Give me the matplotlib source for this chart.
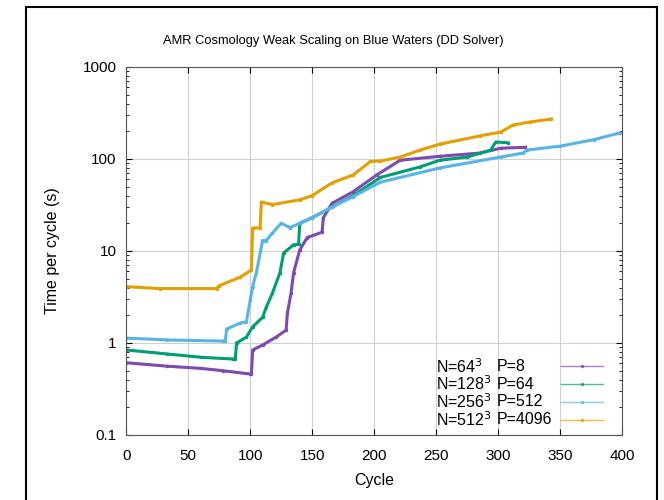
import matplotlib
matplotlib.use("Agg")
import matplotlib.pyplot as plt
from matplotlib.patches import Rectangle
from matplotlib.ticker import LogLocator, NullFormatter, FixedLocator

plt.rcParams['font.family'] = ['Liberation Sans', 'DejaVu Sans']

# values (cycle, time per cycle in s)
cyc_64 = [0, 33, 60, 78, 100, 101, 102, 110, 121, 129, 130, 133, 135, 140, 146, 158,
          159, 166, 183, 202, 221, 253, 285, 302, 322]
t_64 = [0.61, 0.56, 0.53, 0.50, 0.46, 0.46, 0.84, 0.95, 1.16, 1.38, 2.1, 3.5, 5.8, 10.3,
        14, 16, 23, 33, 44, 67, 97, 107, 116, 131, 134]

cyc_128 = [0, 33, 60, 86, 88, 89, 97, 102, 110, 113, 118, 124, 127, 135, 139, 140, 150,
           166, 183, 205, 237, 253, 275, 294, 298, 308]
t_128 = [0.84, 0.76, 0.70, 0.67, 0.67, 1.0, 1.16, 1.5, 1.9, 2.45, 3.5, 5.8, 9.5, 11.7,
         11.8, 20, 23, 30, 40, 63, 82, 97, 105, 125, 153, 150]

cyc_256 = [0, 33, 78, 80, 81, 92, 97, 100, 102, 105, 110, 113, 118, 125, 132, 140, 150,
           166, 183, 205, 253, 302, 320, 323, 350, 377, 398]
t_256 = [1.13, 1.08, 1.05, 1.05, 1.42, 1.65, 1.7, 2.9, 4.1, 5.8, 13, 13, 15.7, 20, 18,
         20, 23, 30, 39, 56, 80, 105, 116, 125, 138, 162, 192]

cyc_512 = [0, 27, 73, 75, 92, 101, 102, 108, 109, 118, 140, 150, 166, 183, 197, 205,
           221, 237, 253, 285, 302, 312, 326, 343]
t_512 = [4.1, 3.9, 3.9, 4.2, 5.2, 6.2, 17.8, 17.8, 34, 32, 36, 40, 55, 67, 94, 95,
         105, 125, 145, 178, 196, 234, 253, 272]

n_labels = ["N=64$^3$", "N=128$^3$", "N=256$^3$", "N=512$^3$"]
p_labels = ["P=8", "P=64", "P=512", "P=4096"]
colors = ["#7c4ab0", "#009e73", "#56b4e9", "#e69f00"]

fig = plt.figure(figsize=(6.64, 5), dpi=100)
ax = fig.add_axes([0.190, 0.13, 0.747, 0.736])

series = [(cyc_64, t_64), (cyc_128, t_128), (cyc_256, t_256), (cyc_512, t_512)]
lines = []
for (c, t), col in zip(series, colors):
    ln, = ax.plot(c, t, color=col, lw=2.2, marker='.', ms=3)
    lines.append(ln)

ax.set_yscale('log')
ax.set_xlim(0, 400)
ax.set_ylim(0.1, 1000)
ax.xaxis.set_major_locator(FixedLocator(range(0, 401, 50)))
ax.set_yticks([0.1, 1, 10, 100, 1000])
ax.set_yticklabels(["0.1", "1", "10", "100", "1000"])
ax.yaxis.set_minor_locator(LogLocator(base=10, subs=range(2, 10)))
ax.yaxis.set_minor_formatter(NullFormatter())
ax.tick_params(which='both', direction='in', top=True, right=True, labelsize=11, pad=7)
ax.tick_params(axis='x', which='major', pad=10)
ax.tick_params(which='major', length=4)
ax.tick_params(which='minor', length=2)
ax.grid(True, which='major', color='#d0d0d0', lw=0.8)
for s in ax.spines.values():
    s.set_color('#555555')

ax.set_xlabel("Cycle", fontsize=11.5, labelpad=7)
ax.set_ylabel("Time per cycle (s)", fontsize=11.5, labelpad=16)
fig.text(0.502, 0.918, "AMR Cosmology Weak Scaling on Blue Waters (DD Solver)",
         ha='center', va='center', fontsize=9.3)

# gnuplot style key: text on the left, thin sample line on the right
leg = ax.legend(lines, [""] * 4, loc='lower right', bbox_to_anchor=(0.976, 0.0),
                frameon=False, markerfirst=False, fontsize=11, handlelength=2.8,
                handletextpad=0, labelspacing=0.25, borderaxespad=0.05)
for h in leg.legend_handles:
    h.set_linewidth(1.0)
    h.set_alpha(0.7)

fig.canvas.draw()
r = fig.canvas.get_renderer()
inv = ax.transAxes.inverted()
for h, n, p in zip(leg.legend_handles, n_labels, p_labels):
    bb = h.get_window_extent(r)
    yc = inv.transform((0, (bb.y0 + bb.y1) / 2))[1]
    ax.text(0.625, yc, n, transform=ax.transAxes, va='center', fontsize=11.5)
    ax.text(0.747, yc, p, transform=ax.transAxes, va='center', fontsize=11.5)

fig.patches.append(Rectangle((26 / 664, -0.02), 631 / 664, 1.006, transform=fig.transFigure,
                             fill=False, edgecolor='black', lw=1.5))

fig.savefig("out.png", dpi=100)
